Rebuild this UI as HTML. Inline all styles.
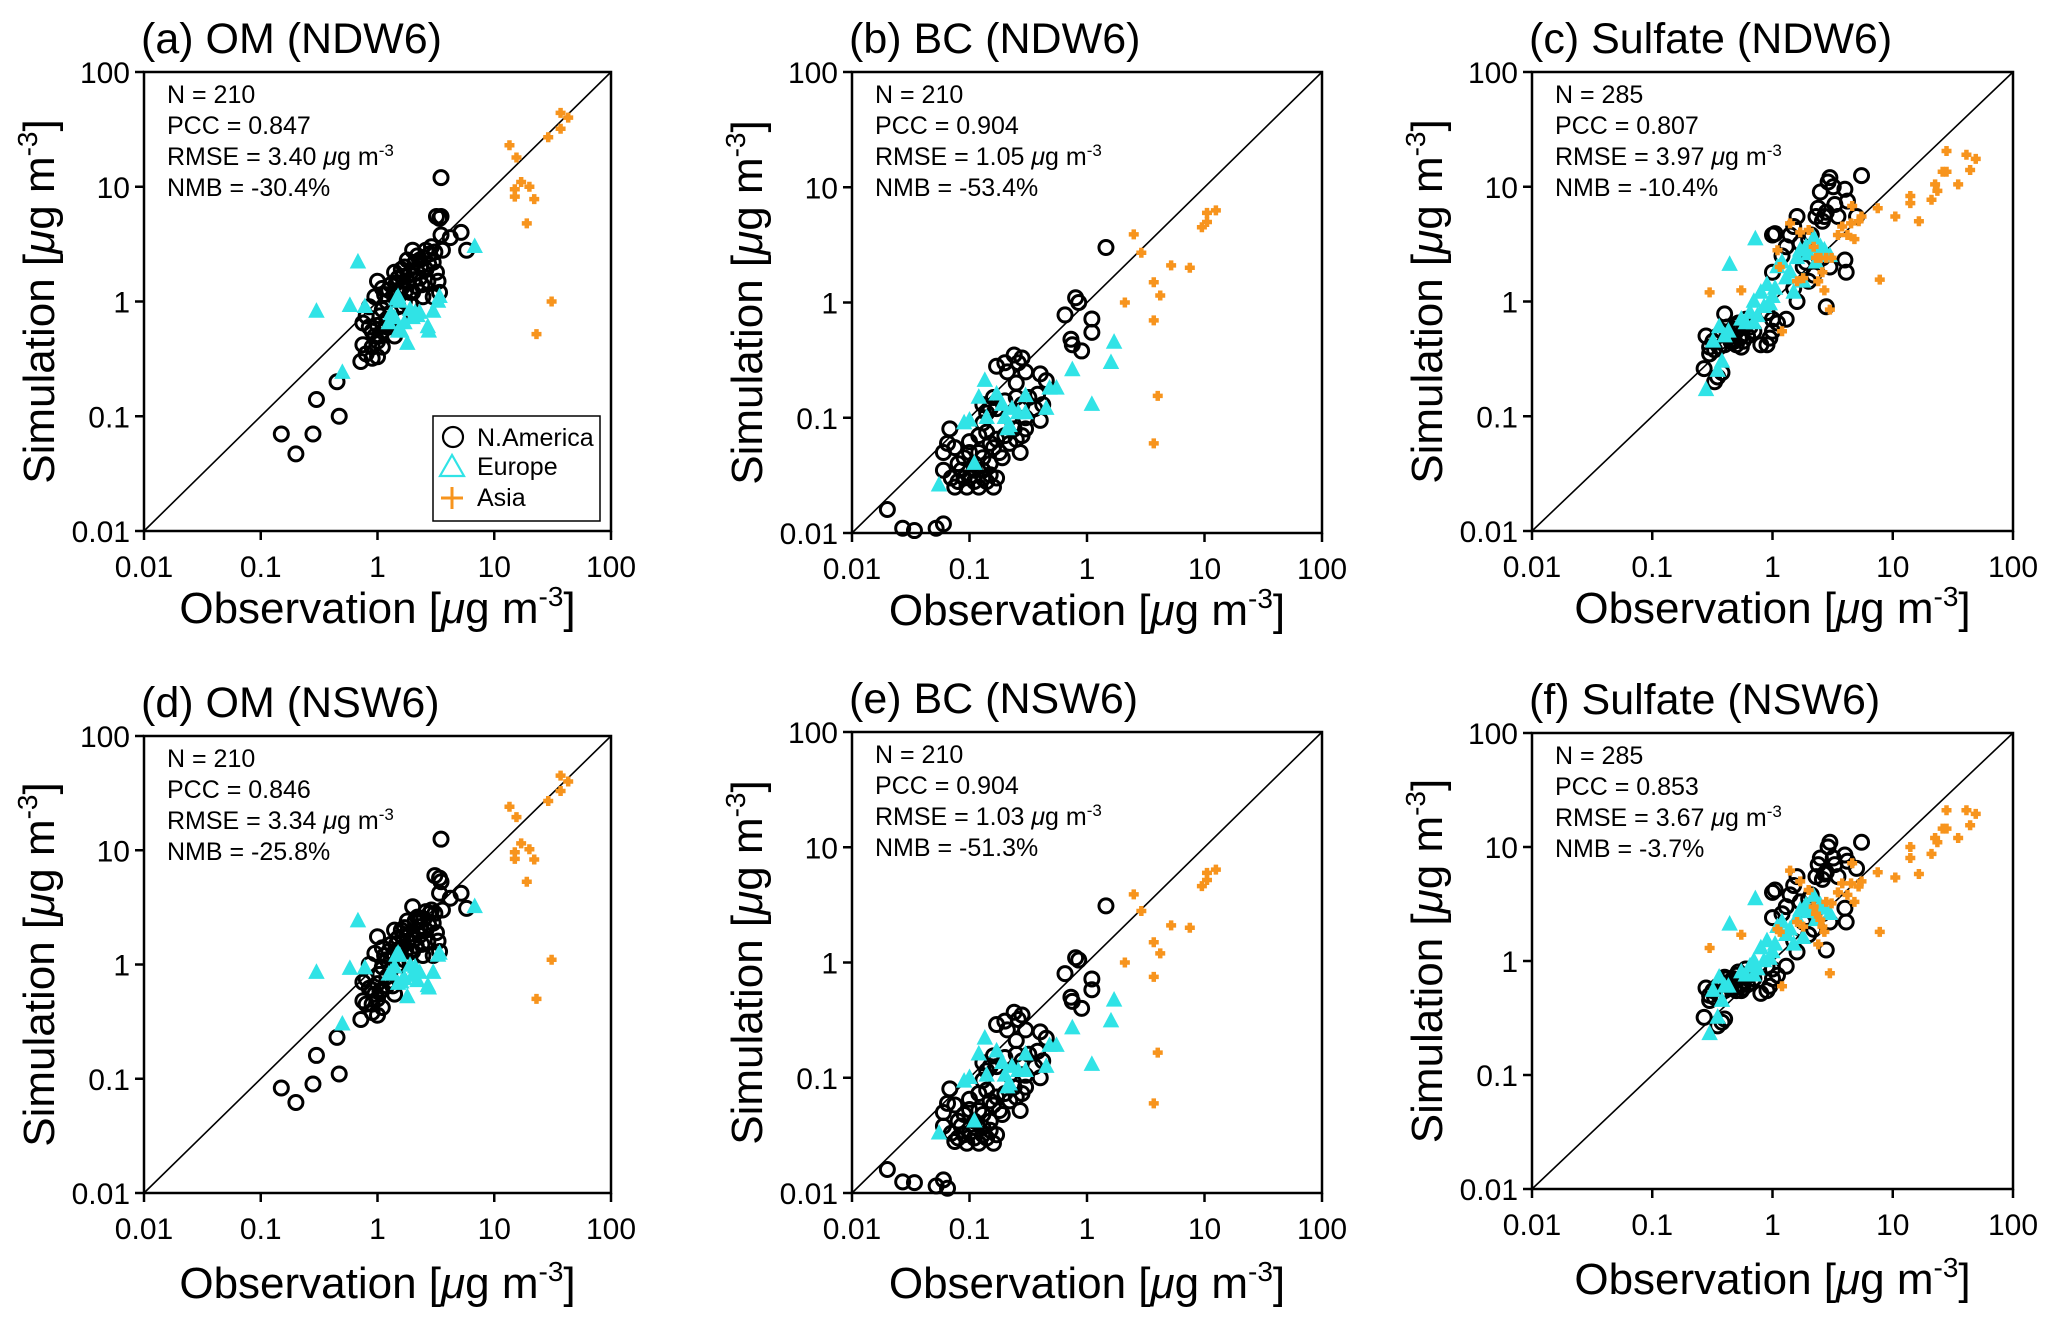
<!DOCTYPE html>
<html><head><meta charset="utf-8"><style>
html,body{margin:0;padding:0;background:#fff}
svg{display:block}
text{font-family:"Liberation Sans",Arial,sans-serif;fill:#000}
</style></head><body>
<svg id="chart" xmlns="http://www.w3.org/2000/svg" width="2067" height="1329" viewBox="0 0 2067 1329"></svg>
<script>
// ---- data (obs, sim) pairs in µg m-3 ----
const aNA=[[0.15,0.07],[0.2,0.047],[0.28,0.07],[0.3,0.14],[0.45,0.2],[0.47,0.1],[3.5,12],[3.2,5.5],[3.5,5.5],[3.4,5.3],[5.2,4],[4.2,3.6],[5.8,2.8],[3.5,3.8],[3.6,2.8],[0.75,0.42],[0.72,0.3],[0.8,0.35],[0.9,0.32],[1.0,0.33],[0.75,0.65],[0.8,0.75],[0.85,0.6],[0.9,0.55],[0.95,0.5],[1.0,0.45],[1.05,0.5],[1.1,0.55],[1.0,0.62],[1.2,0.6],[0.95,1.1],[1.0,1.5],[1.1,1.3],[1.2,1.0],[1.3,1.4],[1.4,1.8],[1.5,1.6],[1.6,1.3],[1.7,2.0],[1.8,1.5],[1.9,1.2],[2.0,2.8],[2.1,2.2],[2.2,1.8],[2.3,1.6],[2.4,1.4],[2.5,2.4],[2.6,1.9],[2.8,2.6],[3.0,2.2],[3.2,1.8],[3.4,1.2],[3.3,1.5],[1.3,0.8],[1.5,0.9],[1.7,1.0],[1.9,0.95],[2.0,1.2],[1.1,0.85],[1.2,0.7],[1.4,1.1],[1.6,1.9],[1.8,2.3],[2.2,2.5],[2.6,2.8],[2.9,3.0],[1.25,1.25],[1.45,1.45],[1.65,1.65],[2.05,1.55],[2.35,2.05],[2.7,1.5],[3.0,1.1],[1.35,0.6],[1.55,0.7],[0.85,0.9],[1.05,0.75],[1.15,1.15],[1.9,1.75],[2.15,1.35],[2.45,1.1],[2.75,2.1],[3.1,2.7],[1.75,1.25],[1.5,1.25],[2.3,2.3],[0.9,0.4],[1.1,0.4],[1.4,0.5]];
const aEU=[[0.3,0.82],[0.58,0.92],[0.68,2.2],[0.78,0.9],[0.5,0.24],[1.3,0.78],[1.45,1.05],[1.5,1.1],[1.55,1.0],[1.4,0.72],[1.7,0.65],[1.6,0.55],[1.5,0.55],[1.8,0.43],[1.25,0.65],[2.1,0.8],[2.2,0.75],[2.3,0.8],[2.7,0.6],[2.75,0.55],[3.0,0.82],[3.3,1.0],[3.4,1.1],[6.8,3.0],[1.9,0.85],[2.0,0.72]];
const aAS=[[13.5,23],[15.5,18],[15,9.5],[15,8.2],[17,11],[20,10],[22,7.8],[19,4.8],[37,44],[43,40],[37,32],[29,27],[31,1.0],[23,0.52]];

const bNA=[[0.02,0.016],[0.027,0.011],[0.034,0.0105],[0.052,0.011],[0.06,0.012],[1.45,3.0],[0.8,1.1],[0.85,1.0],[0.65,0.78],[1.1,0.72],[1.1,0.55],[0.73,0.48],[0.75,0.43],[0.9,0.38],[0.06,0.05],[0.065,0.06],[0.068,0.08],[0.06,0.035],[0.07,0.03],[0.075,0.025],[0.08,0.028],[0.085,0.035],[0.09,0.03],[0.095,0.025],[0.1,0.03],[0.11,0.028],[0.12,0.025],[0.13,0.03],[0.14,0.028],[0.15,0.032],[0.16,0.025],[0.17,0.03],[0.09,0.045],[0.1,0.05],[0.1,0.062],[0.11,0.04],[0.12,0.05],[0.13,0.045],[0.13,0.09],[0.14,0.075],[0.15,0.06],[0.16,0.055],[0.17,0.065],[0.18,0.05],[0.2,0.07],[0.19,0.045],[0.22,0.06],[0.24,0.08],[0.25,0.065],[0.27,0.05],[0.28,0.07],[0.3,0.1],[0.3,0.08],[0.15,0.12],[0.16,0.15],[0.17,0.28],[0.2,0.3],[0.21,0.25],[0.24,0.35],[0.26,0.3],[0.28,0.33],[0.3,0.25],[0.25,0.2],[0.25,0.15],[0.28,0.13],[0.32,0.15],[0.36,0.12],[0.4,0.095],[0.4,0.24],[0.45,0.21],[0.42,0.13],[0.38,0.16],[0.2,0.14],[0.22,0.1],[0.13,0.13],[0.14,0.11],[0.17,0.12],[0.12,0.07],[0.08,0.04],[0.075,0.055],[0.11,0.035],[0.13,0.035],[0.15,0.04]];
const bEU=[[0.055,0.026],[0.11,0.04],[0.09,0.09],[0.1,0.095],[0.12,0.15],[0.135,0.21],[0.14,0.1],[0.17,0.16],[0.19,0.13],[0.2,0.1],[0.21,0.08],[0.22,0.085],[0.23,0.12],[0.26,0.11],[0.3,0.11],[0.3,0.155],[0.45,0.12],[0.48,0.18],[0.55,0.18],[0.75,0.26],[1.1,0.13],[1.6,0.3],[1.7,0.45]];
const bAS=[[2.5,3.9],[2.9,2.7],[2.1,1.0],[3.7,1.5],[4.2,1.15],[5.2,2.1],[7.5,2.0],[3.7,0.7],[4.0,0.155],[3.7,0.06],[9.5,4.5],[10.5,5.0],[10.5,6.0],[12.5,6.3]];

const cNA=[[0.27,0.26],[0.33,0.2],[0.35,0.22],[0.38,0.24],[0.28,0.5],[0.3,0.4],[0.32,0.45],[0.35,0.5],[0.38,0.55],[0.4,0.42],[0.42,0.6],[0.45,0.5],[0.48,0.45],[0.5,0.55],[0.52,0.65],[0.55,0.5],[0.58,0.6],[0.6,0.7],[0.62,0.5],[0.55,0.4],[0.5,0.42],[0.45,0.45],[0.4,0.78],[0.65,0.6],[0.7,0.55],[0.8,0.42],[0.9,0.42],[0.95,0.48],[1.0,0.55],[0.9,0.8],[1.0,0.7],[1.1,0.65],[0.3,0.35],[0.33,0.38],[0.36,0.4],[0.42,0.52],[0.47,0.58],[0.5,0.62],[0.53,0.48],[0.57,0.45],[1.0,1.8],[1.0,3.8],[1.05,3.9],[1.2,2.5],[1.3,3.0],[1.4,3.8],[1.6,5.5],[1.5,4.5],[1.7,3.2],[1.8,2.0],[1.9,2.2],[2.0,3.5],[2.1,3.8],[2.3,5.5],[2.4,6.5],[2.5,9.0],[2.7,5.5],[2.8,6.0],[2.9,11],[3.0,12],[3.2,10],[3.3,7],[3.5,5.5],[4.0,9.5],[4.2,7.5],[5.0,5.5],[5.5,12.5],[4.0,2.3],[4.1,1.8],[2.8,0.9],[2.6,2.4],[1.5,1.3],[1.3,0.7],[1.6,1.0],[2.0,1.5],[2.2,1.7],[3.0,2.0],[2.6,5.0]];
const cEU=[[0.28,0.17],[0.35,0.25],[0.38,0.3],[0.32,0.45],[0.36,0.6],[0.4,0.5],[0.43,0.55],[0.44,2.1],[0.55,0.7],[0.6,0.65],[0.65,0.8],[0.7,1.0],[0.72,3.5],[0.7,0.65],[0.8,1.2],[0.85,0.9],[0.9,1.4],[1.0,1.1],[1.05,1.3],[1.1,2.0],[1.2,2.2],[1.3,1.6],[1.4,1.8],[1.5,1.2],[1.6,2.4],[1.7,2.8],[1.8,1.5],[1.9,3.0],[2.0,2.6],[2.2,3.6],[2.3,2.2],[2.5,3.0],[2.7,2.8],[3.0,2.5],[0.75,0.75],[0.95,0.95]];
const cAS=[[0.3,1.2],[0.55,1.25],[1.2,0.55],[1.15,2.0],[1.1,2.8],[1.4,4.8],[1.6,1.5],[1.7,4.0],[1.8,1.6],[2.0,4.2],[2.2,3.0],[2.3,2.4],[2.4,1.5],[2.5,2.4],[2.6,1.8],[2.7,1.25],[2.8,2.4],[3.0,0.85],[3.1,2.4],[3.5,3.8],[3.8,4.5],[4.2,3.8],[4.5,4.8],[4.8,3.5],[4.6,6.8],[5.2,5.0],[5.5,5.5],[7.5,6.5],[7.8,1.55],[10.5,5.5],[14,8.3],[14,7.2],[16.5,5.0],[21,7.7],[22.5,10.5],[23.5,9.2],[26,13.5],[28,13.5],[28,20.5],[35,10.5],[41,19],[44,14],[49,17.5]];

const dNA=[[0.15,0.083],[0.2,0.062],[0.28,0.09],[0.3,0.16],[0.45,0.23],[0.47,0.11],[3.5,12.5],[3.1,6.0],[3.4,5.7],[3.5,5.3],[5.2,4.2],[4.2,3.8],[5.8,3.1],[3.4,4.2],[3.6,3.0],[0.75,0.48],[0.72,0.33],[0.8,0.45],[0.9,0.38],[1.0,0.36],[0.75,0.7],[0.8,0.75],[0.85,0.62],[0.9,0.6],[0.95,0.55],[1.0,0.5],[1.05,0.58],[1.1,0.6],[1.0,0.68],[1.2,0.65],[0.95,1.25],[1.0,1.75],[1.1,1.4],[1.2,1.1],[1.3,1.5],[1.4,2.0],[1.5,1.7],[1.6,1.4],[1.7,2.1],[1.8,1.6],[1.9,1.3],[2.0,3.2],[2.1,2.4],[2.2,2.0],[2.3,1.8],[2.4,1.5],[2.5,2.5],[2.6,2.0],[2.8,2.8],[3.0,2.3],[3.2,1.9],[3.4,1.3],[3.3,1.6],[1.3,0.9],[1.5,1.0],[1.7,1.1],[1.9,1.05],[2.0,1.3],[1.1,0.95],[1.2,0.78],[1.4,1.2],[1.6,2.0],[1.8,2.4],[2.2,2.6],[2.6,2.9],[2.9,3.0],[1.25,1.3],[1.45,1.5],[1.65,1.75],[2.05,1.65],[2.35,2.15],[2.7,1.6],[3.0,1.2],[1.35,0.65],[1.55,0.75],[0.85,1.0],[1.05,0.82],[1.15,1.2],[1.9,1.85],[2.15,1.45],[2.45,1.2],[2.75,2.2],[3.1,2.8],[1.75,1.35],[1.5,1.35],[2.3,2.4],[0.9,0.45],[1.1,0.42],[1.4,0.55]];
const dEU=[[0.3,0.85],[0.58,0.92],[0.68,2.4],[0.78,0.93],[0.5,0.3],[1.3,0.85],[1.45,1.2],[1.5,1.25],[1.55,1.2],[1.4,0.95],[1.7,0.75],[1.6,0.7],[1.5,0.68],[1.8,0.52],[1.25,0.82],[2.1,0.95],[2.2,0.72],[2.3,0.85],[2.7,0.65],[2.75,0.62],[3.0,0.85],[3.3,1.2],[3.4,1.25],[6.8,3.2],[1.9,0.98],[2.0,0.8]];
const dAS=[[13.5,24],[15.5,19.5],[15,9.6],[15,8.4],[17,11.5],[20,10.2],[22,8.3],[19,5.3],[37,45],[43,40],[37,33],[29,27],[31,1.1],[23,0.5]];

const eNA=[[0.02,0.016],[0.027,0.0125],[0.034,0.0123],[0.052,0.0115],[0.06,0.013],[0.065,0.011],[1.45,3.1],[0.8,1.1],[0.85,1.05],[0.65,0.8],[1.1,0.72],[1.1,0.58],[0.73,0.5],[0.75,0.46],[0.9,0.4],[0.06,0.05],[0.065,0.06],[0.068,0.08],[0.06,0.038],[0.07,0.033],[0.075,0.028],[0.08,0.03],[0.085,0.038],[0.09,0.032],[0.095,0.027],[0.1,0.033],[0.11,0.03],[0.12,0.027],[0.13,0.032],[0.14,0.03],[0.15,0.035],[0.16,0.027],[0.17,0.032],[0.09,0.048],[0.1,0.053],[0.1,0.065],[0.11,0.042],[0.12,0.052],[0.13,0.048],[0.13,0.095],[0.14,0.078],[0.15,0.063],[0.16,0.058],[0.17,0.068],[0.18,0.052],[0.2,0.073],[0.19,0.048],[0.22,0.063],[0.24,0.083],[0.25,0.068],[0.27,0.052],[0.28,0.073],[0.3,0.105],[0.3,0.083],[0.15,0.125],[0.16,0.155],[0.17,0.29],[0.2,0.31],[0.21,0.26],[0.24,0.37],[0.26,0.32],[0.28,0.35],[0.3,0.26],[0.25,0.21],[0.25,0.16],[0.28,0.14],[0.32,0.16],[0.36,0.125],[0.4,0.1],[0.4,0.25],[0.45,0.22],[0.42,0.14],[0.38,0.17],[0.2,0.15],[0.22,0.105],[0.13,0.135],[0.14,0.115],[0.17,0.125],[0.12,0.073],[0.08,0.042],[0.075,0.058],[0.11,0.037],[0.13,0.037],[0.15,0.042]];
const eEU=[[0.055,0.033],[0.11,0.042],[0.09,0.093],[0.1,0.1],[0.12,0.16],[0.135,0.22],[0.14,0.105],[0.17,0.17],[0.19,0.135],[0.2,0.105],[0.21,0.083],[0.22,0.088],[0.23,0.125],[0.26,0.115],[0.3,0.115],[0.3,0.16],[0.45,0.125],[0.48,0.19],[0.55,0.19],[0.75,0.27],[1.1,0.13],[1.6,0.31],[1.7,0.47]];
const eAS=[[2.5,3.9],[2.9,2.8],[2.1,1.0],[3.7,1.5],[4.2,1.2],[5.2,2.1],[7.5,2.0],[3.7,0.75],[4.0,0.165],[3.7,0.06],[9.5,4.6],[10.5,5.2],[10.5,6.0],[12.5,6.4]];

const fNA=[[0.27,0.32],[0.35,0.27],[0.38,0.29],[0.4,0.31],[0.28,0.58],[0.3,0.5],[0.32,0.55],[0.35,0.6],[0.38,0.65],[0.4,0.55],[0.42,0.7],[0.45,0.62],[0.48,0.58],[0.5,0.68],[0.52,0.8],[0.55,0.62],[0.58,0.72],[0.6,0.85],[0.62,0.62],[0.55,0.55],[0.5,0.55],[0.45,0.58],[0.4,0.72],[0.65,0.75],[0.7,0.7],[0.8,0.52],[0.9,0.55],[0.95,0.6],[1.0,0.7],[0.9,0.9],[1.0,0.85],[1.1,0.75],[0.3,0.45],[0.33,0.48],[0.36,0.5],[0.42,0.62],[0.47,0.7],[0.5,0.75],[0.53,0.6],[0.57,0.58],[1.0,2.4],[1.0,4.0],[1.05,4.2],[1.2,2.6],[1.3,3.0],[1.4,3.8],[1.6,5.5],[1.5,4.6],[1.7,3.3],[1.8,2.2],[1.9,2.4],[2.0,3.5],[2.1,3.8],[2.3,5.5],[2.4,7.0],[2.5,8.0],[2.7,5.8],[2.8,6.0],[2.9,10],[3.0,11],[3.2,8.0],[3.3,7],[3.5,5.5],[4.0,8.5],[4.2,7.5],[5.0,6.5],[5.5,11],[4.0,2.9],[4.1,2.2],[2.8,1.25],[2.6,2.6],[1.5,1.5],[1.3,0.9],[1.6,1.2],[2.0,1.7],[2.2,1.9],[3.0,2.2],[2.6,5.2]];
const fEU=[[0.3,0.23],[0.35,0.32],[0.38,0.45],[0.32,0.55],[0.36,0.72],[0.4,0.6],[0.43,0.6],[0.44,2.1],[0.55,0.8],[0.6,0.75],[0.65,0.9],[0.7,1.0],[0.72,3.5],[0.7,0.75],[0.8,1.3],[0.85,1.0],[0.9,1.5],[1.0,1.2],[1.05,1.4],[1.1,2.0],[1.2,2.2],[1.3,1.7],[1.4,1.9],[1.5,1.4],[1.6,2.4],[1.7,2.8],[1.8,1.6],[1.9,3.1],[2.0,2.7],[2.2,3.7],[2.3,2.3],[2.5,3.1],[2.7,2.9],[3.0,2.6],[0.75,0.85],[0.95,1.05]];
const fAS=[[0.3,1.3],[0.55,1.7],[1.2,0.6],[1.15,1.8],[1.1,1.9],[1.4,6.2],[1.6,2.2],[1.7,5.0],[1.8,2.0],[2.0,4.2],[2.2,3.0],[2.3,2.6],[2.4,1.4],[2.5,2.3],[2.6,2.0],[2.7,1.8],[2.8,3.3],[3.0,0.78],[3.1,3.2],[3.5,4.0],[3.8,4.8],[4.2,3.8],[4.5,4.8],[4.8,3.3],[4.6,7.2],[5.2,4.5],[5.5,5.0],[7.5,6.0],[7.8,1.8],[10.5,5.4],[14,8.0],[14,10],[16.5,5.8],[21,8.7],[22.5,12],[23.5,11],[26,14.5],[28,14.5],[28,21],[35,12],[41,21],[44,15.5],[49,19.5]];

const tickValues=[0.01,0.1,1,10,100];
const tickLabels=["0.01","0.1","1","10","100"];

const panels=[
 {id:"a",title:"(a) OM (NDW6)",L:144,R:611,T:72,B:531,xt:92,N:"210",PCC:"0.847",RMSE:"3.40",NMB:"-30.4%",na:aNA,eu:aEU,as:aAS,legend:true},
 {id:"b",title:"(b) BC (NDW6)",L:852,R:1322,T:72,B:533,xt:92,N:"210",PCC:"0.904",RMSE:"1.05",NMB:"-53.4%",na:bNA,eu:bEU,as:bAS},
 {id:"c",title:"(c) Sulfate (NDW6)",L:1532,R:2013,T:72,B:531,xt:92,N:"285",PCC:"0.807",RMSE:"3.97",NMB:"-10.4%",na:cNA,eu:cEU,as:cAS},
 {id:"d",title:"(d) OM (NSW6)",L:144,R:611,T:736,B:1193,xt:105,N:"210",PCC:"0.846",RMSE:"3.34",NMB:"-25.8%",na:dNA,eu:dEU,as:dAS},
 {id:"e",title:"(e) BC (NSW6)",L:852,R:1322,T:732,B:1193,xt:105,N:"210",PCC:"0.904",RMSE:"1.03",NMB:"-51.3%",na:eNA,eu:eEU,as:eAS},
 {id:"f",title:"(f) Sulfate (NSW6)",L:1532,R:2013,T:733,B:1189,xt:105,N:"285",PCC:"0.853",RMSE:"3.67",NMB:"-3.7%",na:fNA,eu:fEU,as:fAS}
];

const NS="http://www.w3.org/2000/svg";
const svg=document.getElementById("chart");
function mk(tag,attrs,parent){const e=document.createElementNS(NS,tag);for(const k in attrs)e.setAttribute(k,attrs[k]);(parent||svg).appendChild(e);return e;}
const CYAN="#30e3e6", ORANGE="#f7941d";

function drawTri(g,cx,cy,s){return mk("polygon",{points:`${cx},${cy-s*0.62} ${cx-s*0.55},${cy+s*0.42} ${cx+s*0.55},${cy+s*0.42}`,fill:CYAN},g);}
function drawPlus(g,cx,cy,s){return mk("path",{d:`M${cx-s} ${cy}H${cx+s}M${cx} ${cy-s}V${cy+s}`,stroke:ORANGE,"stroke-width":s*0.9,fill:"none"},g);}

panels.forEach(p=>{
  const g=mk("g",{});
  
  
  const xs=v=>p.L+(Math.log10(v)+2)/4*(p.R-p.L);
  const ys=v=>p.B-(Math.log10(v)+2)/4*(p.B-p.T);
  const t=mk("text",{x:p.L-3,y:p.T-19,"font-size":43},g); t.textContent=p.title;
  
  
  const d=mk("line",{x1:xs(0.01),y1:ys(0.01),x2:xs(100),y2:ys(100),stroke:"#000","stroke-width":1.6},g);
  
  
  tickValues.forEach((v,i)=>{
    mk("line",{x1:xs(v),y1:p.B,x2:xs(v),y2:p.B+9,stroke:"#000","stroke-width":2.5},g);
    mk("line",{x1:p.L-9,y1:ys(v),x2:p.L,y2:ys(v),stroke:"#000","stroke-width":2.5},g);
    const tx=mk("text",{x:xs(v),y:p.B+46,"font-size":30,"text-anchor":"middle"},g); tx.textContent=tickLabels[i];
    
    
    const ty=mk("text",{x:p.L-14,y:ys(v)+11,"font-size":30,"text-anchor":"end"},g); ty.textContent=tickLabels[i];
    
    
  });
  p.na.forEach(q=>{const c=mk("circle",{cx:xs(q[0]),cy:ys(q[1]),r:7,fill:"none",stroke:"#000","stroke-width":3},g);
    
    });
  p.eu.forEach(q=>{const c=drawTri(g,xs(q[0]),ys(q[1]),15);
    
    });
  p.as.forEach(q=>{const c=drawPlus(g,xs(q[0]),ys(q[1]),5);
    
    });
  const fr=mk("rect",{x:p.L,y:p.T,width:p.R-p.L,height:p.B-p.T,fill:"none",stroke:"#000","stroke-width":2.5},g);
  
  
  const sx=p.L+23, sy=p.T+31;
  const lines=["N = "+p.N,"PCC = "+p.PCC,null,"NMB = "+p.NMB];
  lines.forEach((s,i)=>{
    const tt=mk("text",{x:sx,y:sy+i*31,"font-size":25},g);
    
    
    if(s) tt.textContent=s;
    else tt.innerHTML='RMSE = '+p.RMSE+' <tspan font-style="italic">μ</tspan>g m<tspan dy="-9" font-size="17">-3</tspan>';
  });
  const xt=mk("text",{x:(p.L+p.R)/2,y:p.B+p.xt,"font-size":44,"text-anchor":"middle"},g);
  xt.innerHTML='Observation [<tspan font-style="italic">μ</tspan>g m<tspan dy="-17" font-size="28">-3</tspan><tspan dy="17">]</tspan>';
  
  
  const cy=(p.T+p.B)/2, cx=p.L-90;
  const yt=mk("text",{x:cx,y:cy,"font-size":44,"text-anchor":"middle",transform:`rotate(-90 ${cx} ${cy})`},g);
  yt.innerHTML='Simulation [<tspan font-style="italic">μ</tspan>g m<tspan dy="-17" font-size="28">-3</tspan><tspan dy="17">]</tspan>';
  
  
  if(p.legend){
    const lg=mk("g",{},g);
    
    
    mk("rect",{x:433,y:416,width:167,height:105,fill:"#fff",stroke:"#000","stroke-width":1.5},lg);
    mk("circle",{cx:453,cy:437,r:10,fill:"none",stroke:"#000","stroke-width":2.2},lg);
    mk("polygon",{points:"452,455 440,476 464,476",fill:"none",stroke:CYAN,"stroke-width":2.2},lg);
    mk("path",{d:"M441 498H463M452 487V509",stroke:ORANGE,"stroke-width":3,fill:"none"},lg);
    [["N.America",446],["Europe",475],["Asia",506]].forEach(a=>{
      const lt=mk("text",{x:477,y:a[1],"font-size":25},lg); lt.textContent=a[0];
      
      
    });
  }
});
</script>
</body></html>
